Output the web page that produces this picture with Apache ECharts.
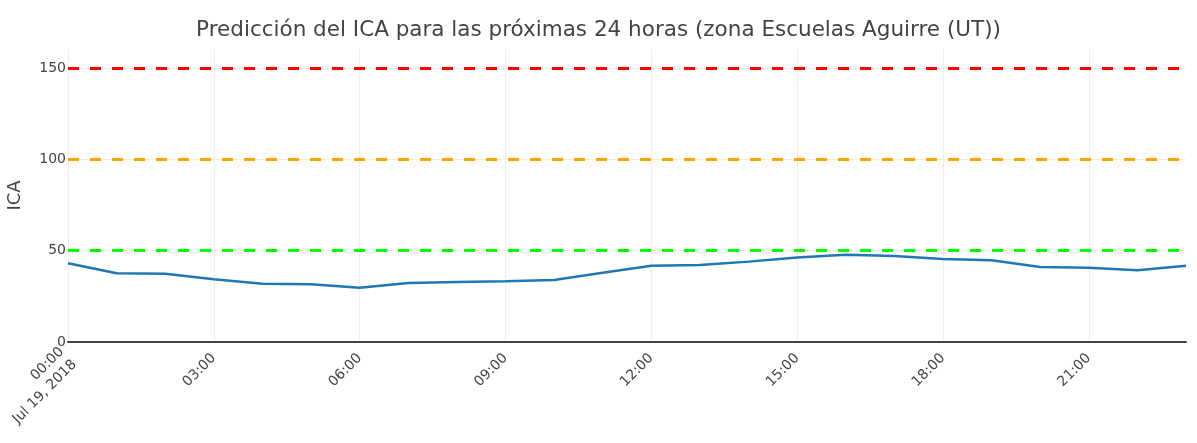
<!DOCTYPE html>
<html>
<head>
<meta charset="utf-8">
<script src="https://cdn.jsdelivr.net/npm/echarts@6/dist/echarts.min.js"></script>
<style>
  html, body { margin: 0; padding: 0; background: #fff; }
  #chart { width: 1197px; height: 443px; }
</style>
</head>
<body>
<div id="chart"></div>
<script>
// datos
const fecha = 'Jul 19, 2018';
const horas = ['00:00','01:00','02:00','03:00','04:00','05:00','06:00','07:00','08:00','09:00','10:00','11:00',
  '12:00','13:00','14:00','15:00','16:00','17:00','18:00','19:00','20:00','21:00','22:00','23:00'];
const ica = [43.1, 37.6, 37.4, 34.3, 31.9, 31.6, 29.7, 32.3, 32.8, 33.2, 33.9, 37.9,
  41.8, 42.2, 44.0, 46.2, 47.8, 47.1, 45.4, 44.7, 41.1, 40.7, 39.3, 41.8];
const umbrales = [50, 100, 150];
const coloresUmbral = ['#00ff00', '#ffa500', '#ff0000'];

const fuente = '"DejaVu Sans", verdana, sans-serif';

var dom = document.getElementById('chart');
var myChart = echarts.init(dom);
var option;

option = {
  animation: false,
  textStyle: { fontFamily: fuente },
  title: {
    text: 'Predicción del ICA para las próximas 24 horas (zona Escuelas Aguirre (UT))',
    left: 'center',
    top: 14,
    textStyle: { fontFamily: fuente, fontSize: 21.5, fontWeight: 'normal', color: '#444' }
  },
  grid: { left: 68, right: 11, top: 49, bottom: 101, outerBoundsMode: 'none' },
  xAxis: {
    type: 'category',
    data: horas,
    boundaryGap: false,
    axisLine: { show: true, onZero: true, lineStyle: { color: '#444', width: 2 } },
    axisTick: { show: false },
    splitLine: { show: true, interval: 2, lineStyle: { color: '#eee', width: 1 } },
    axisLabel: {
      interval: 2,
      rotate: 45,
      margin: 14,
      fontSize: 14,
      color: '#444',
      fontFamily: fuente,
      lineHeight: 18,
      formatter: (v, i) => i === 0 ? v + '\n' + fecha : v
    }
  },
  yAxis: {
    type: 'value',
    min: 0,
    max: 160.4,
    interval: 50,
    name: 'ICA',
    nameLocation: 'middle',
    nameGap: 44,
    nameTextStyle: { fontFamily: fuente, fontSize: 18, color: '#444' },
    axisLine: { show: false },
    axisTick: { show: false },
    splitLine: { showMaxLine: false, lineStyle: { color: '#eee', width: 1 } },
    axisLabel: {
      fontSize: 14, color: '#444', fontFamily: fuente, margin: 2,
      showMaxLabel: false
    }
  },
  series: [
    {
      type: 'line',
      data: ica,
      showSymbol: false,
      symbol: 'none',
      lineStyle: { color: '#1f77b4', width: 2.5 },
      z: 3,
      markLine: {
        silent: true,
        symbol: 'none',
        label: { show: false },
        data: umbrales.map((u, i) => ({
          yAxis: u,
          lineStyle: { color: coloresUmbral[i], width: 3, type: [11, 11], opacity: 1 }
        }))
      }
    }
  ]
};

if (option && typeof option === 'object') {
  myChart.setOption(option);
}
</script>
</body>
</html>
